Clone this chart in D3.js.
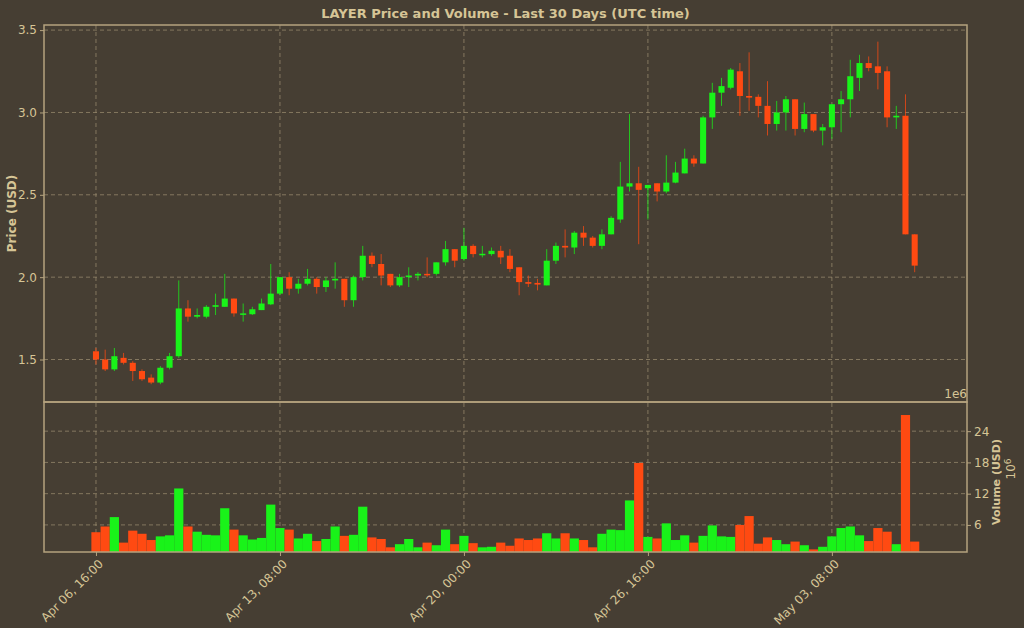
<!DOCTYPE html>
<html>
<head>
<meta charset="utf-8">
<script src="https://cdn.jsdelivr.net/npm/d3@7"></script>
<style>
  body { margin: 0; background: #463e33; }
  text { font-family: "DejaVu Sans", sans-serif; }
</style>
</head>
<body>
<div id="plot"></div>
<script>
// 8-hour candles starting Apr 06 16:00 UTC
const startTime = Date.UTC(2025, 3, 6, 16);
const opens = [1.55,1.50,1.44,1.51,1.48,1.43,1.39,1.36,1.45,1.52, 1.81,1.76,1.76,1.82,1.82,1.87,1.78,1.775,1.80,1.835,
  1.90,2.00,1.93,1.96,1.99,1.94,1.98,1.99,1.86,2.00, 2.13,2.08,2.02,1.95,2.00,2.01,2.02,2.02,2.09,2.17,
  2.11,2.19,2.14,2.14,2.16,2.13,2.06,1.97,1.965,1.95, 2.10,2.19,2.18,2.27,2.24,2.19,2.26,2.35,2.55,2.57,
  2.54,2.57,2.52,2.574,2.63,2.72,2.69,2.97,3.12,3.15, 3.25,3.10,3.095,3.04,2.93,3.00,3.08,2.90,2.99,2.89,
  2.91,3.05,3.08,3.21,3.30,3.28,3.25,2.97,2.98,2.26];
const highs = [1.57,1.56,1.57,1.54,1.49,1.44,1.41,1.46,1.54,1.98, 1.86,1.81,1.83,1.90,2.02,1.87,1.84,1.82,1.87,2.08,
  2.00,2.03,1.99,2.05,2.00,2.00,2.09,1.99,2.01,2.19, 2.15,2.14,2.02,2.02,2.06,2.03,2.12,2.09,2.22,2.17,
  2.30,2.20,2.19,2.18,2.19,2.17,2.06,2.01,1.99,2.17, 2.21,2.29,2.28,2.31,2.25,2.29,2.37,2.70,2.99,2.67,
  2.56,2.57,2.74,2.70,2.78,2.74,2.98,3.18,3.21,3.27, 3.30,3.365,3.11,3.19,3.07,3.10,3.08,3.06,2.99,2.93,
  3.05,3.13,3.32,3.35,3.34,3.43,3.28,3.04,3.11,2.26];
const lows = [1.47,1.43,1.43,1.47,1.37,1.37,1.35,1.35,1.44,1.51, 1.73,1.75,1.75,1.77,1.82,1.76,1.73,1.77,1.80,1.83,
  1.89,1.89,1.90,1.95,1.90,1.91,1.93,1.82,1.82,1.98, 2.06,1.95,1.94,1.94,1.94,1.98,2.00,2.01,2.07,2.06,
  2.10,2.12,2.12,2.13,2.08,2.03,1.89,1.94,1.92,1.95, 2.08,2.12,2.14,2.19,2.18,2.17,2.26,2.33,2.52,2.20,
  2.35,2.46,2.51,2.57,2.63,2.67,2.69,2.90,3.04,3.14, 2.98,3.01,2.97,2.86,2.89,2.89,2.86,2.88,2.88,2.80,
  2.84,2.88,2.97,3.13,3.25,3.14,2.91,2.90,2.26,2.03];
const closes = [1.50,1.44,1.52,1.48,1.43,1.38,1.36,1.45,1.52,1.81, 1.76,1.77,1.82,1.83,1.87,1.78,1.78,1.805,1.84,1.90,
  2.00,1.93,1.96,1.99,1.94,1.98,1.99,1.86,2.00,2.13, 2.08,2.01,1.95,2.00,2.01,2.02,2.018,2.09,2.17,2.10,
  2.19,2.14,2.142,2.16,2.12,2.05,1.97,1.96,1.955,2.10, 2.19,2.18,2.27,2.24,2.19,2.26,2.36,2.55,2.57,2.53,
  2.56,2.52,2.574,2.635,2.72,2.69,2.97,3.12,3.16,3.26, 3.10,3.09,3.04,2.93,3.00,3.08,2.90,2.99,2.89,2.91,
  3.05,3.08,3.22,3.30,3.27,3.24,2.97,2.98,2.26,2.07];
const volumes = [4.6,5.7,7.5,2.6,4.9,4.3,3.1,3.8,4.0,13.0, 5.7,4.7,4.1,4.0,9.2,5.1,4.0,3.2,3.5,9.9,
  5.4,5.1,3.4,4.3,2.9,3.3,5.7,3.9,4.1,9.5, 3.6,3.3,1.7,2.3,3.3,1.7,2.6,2.1,5.1,2.3,
  3.9,2.5,1.7,1.8,2.6,2.0,3.4,3.1,3.4,4.4, 3.4,4.4,3.4,3.1,1.7,4.3,5.1,5.0,10.7,17.9,
  3.7,3.4,6.3,3.1,4.0,2.6,3.9,5.9,3.8,3.7, 6.0,7.7,2.4,3.6,3.1,2.3,2.8,2.1,1.3,1.8,
  3.8,5.4,5.7,4.0,2.9,5.4,4.7,2.3,27.1,2.8];
const priceTicks = [1.5, 2.0, 2.5, 3.0, 3.5];
const volumeTicks = [6, 12, 18, 24];
const timeTickLabels = ["Apr 06, 16:00", "Apr 13, 08:00", "Apr 20, 00:00", "Apr 26, 16:00", "May 03, 08:00"];
const timeTicks = [0, 160, 320, 480, 640].map(h => new Date(startTime + h * 3600e3));

const HOUR = 3600e3;
const candles = opens.map((o, i) => ({
  t: new Date(startTime + i * 8 * HOUR),
  o: o, h: highs[i], l: lows[i], c: closes[i], v: volumes[i]
}));

const W = 1024, H = 628;
const left = 44, right = 967;
const priceTop = 25, priceBottom = 402, volTop = 402, volBottom = 552;
const fg = "#d6c596", frame = "#b5a37f", grid = "#a8997a";
const up = "#19f319", down = "#ff4a12";

const svg = d3.select("#plot").append("svg").attr("width", W).attr("height", H);
svg.append("rect").attr("width", W).attr("height", H).attr("fill", "#463e33");

const x = d3.scaleUtc()
  .domain([new Date(startTime - 45.2 * HOUR), new Date(startTime + 757.5 * HOUR)])
  .range([left, right]);
const yP = d3.scaleLinear().domain([1.242, 3.531]).range([priceBottom, priceTop]);
const yV = d3.scaleLinear().domain([0.8, 29.6]).range([volBottom, volTop]);
const step = x(new Date(startTime + 8 * HOUR)) - x(new Date(startTime));

// grids
const g = svg.append("g").attr("stroke", grid).attr("stroke-dasharray", "4,3").attr("stroke-width", 0.8).attr("opacity", 0.8);
timeTicks.forEach(t => g.append("line").attr("x1", x(t)).attr("x2", x(t)).attr("y1", priceTop).attr("y2", volBottom));
priceTicks.forEach(p => g.append("line").attr("x1", left).attr("x2", right).attr("y1", yP(p)).attr("y2", yP(p)));
volumeTicks.forEach(v => g.append("line").attr("x1", left).attr("x2", right).attr("y1", yV(v)).attr("y2", yV(v)));

// volume bars
svg.append("g").selectAll("rect").data(candles).join("rect")
  .attr("x", d => x(d.t) - step / 2)
  .attr("width", step)
  .attr("y", d => yV(d.v))
  .attr("height", d => volBottom - yV(d.v))
  .attr("fill", d => d.c >= d.o ? up : down);

// candles
const cg = svg.append("g");
cg.selectAll("line").data(candles).join("line")
  .attr("x1", d => x(d.t)).attr("x2", d => x(d.t))
  .attr("y1", d => yP(d.h)).attr("y2", d => yP(d.l))
  .attr("stroke", d => d.c >= d.o ? up : down).attr("stroke-width", 1).attr("opacity", 0.75);
cg.selectAll("rect").data(candles).join("rect")
  .attr("x", d => x(d.t) - step * 0.33)
  .attr("width", step * 0.66)
  .attr("y", d => yP(Math.max(d.o, d.c)))
  .attr("height", d => Math.max(1.5, Math.abs(yP(d.o) - yP(d.c))))
  .attr("fill", d => d.c >= d.o ? up : down);

// frames
svg.append("rect").attr("x", left).attr("y", priceTop).attr("width", right - left).attr("height", priceBottom - priceTop)
  .attr("fill", "none").attr("stroke", frame).attr("stroke-width", 1.5);
svg.append("rect").attr("x", left).attr("y", volTop).attr("width", right - left).attr("height", volBottom - volTop)
  .attr("fill", "none").attr("stroke", frame).attr("stroke-width", 1.5);

// axes
const axP = svg.append("g").attr("transform", `translate(${left},0)`)
  .call(d3.axisLeft(yP).tickValues(priceTicks).tickFormat(d3.format(".1f")).tickSize(4));
const axV = svg.append("g").attr("transform", `translate(${right},0)`)
  .call(d3.axisRight(yV).tickValues(volumeTicks).tickSize(4));
const axX = svg.append("g").attr("transform", `translate(0,${volBottom})`)
  .call(d3.axisBottom(x).tickValues(timeTicks).tickFormat((d, i) => timeTickLabels[i]).tickSize(4));
[axP, axV, axX].forEach(a => {
  a.select(".domain").remove();
  a.selectAll("line").attr("stroke", frame);
  a.selectAll("text").attr("fill", fg).style("font-size", "12px");
});
axX.selectAll("text").attr("text-anchor", "end").attr("dx", "-0.3em").attr("dy", "0.6em")
  .attr("transform", "rotate(-45)");

// labels
svg.append("text").attr("x", (left + right) / 2).attr("y", 18).attr("text-anchor", "middle")
  .attr("fill", fg).style("font-size", "13px").style("font-weight", "bold")
  .text("LAYER Price and Volume - Last 30 Days (UTC time)");
svg.append("text").attr("transform", `translate(16,${(priceTop + priceBottom) / 2}) rotate(-90)`)
  .attr("text-anchor", "middle").attr("fill", fg).style("font-size", "12px").style("font-weight", "bold")
  .text("Price (USD)");
svg.append("text").attr("transform", `translate(1000,${(volTop + volBottom) / 2 + 5}) rotate(-90)`)
  .attr("text-anchor", "middle").attr("fill", fg).style("font-size", "11px").style("font-weight", "bold")
  .text("Volume (USD)");
const e6 = svg.append("text").attr("transform", `translate(1015,${(volTop + volBottom) / 2 - 8}) rotate(-90)`)
  .attr("text-anchor", "middle").attr("fill", fg).style("font-size", "12px");
e6.append("tspan").text("10");
e6.append("tspan").attr("dy", "-0.5em").style("font-size", "9px").text("6");
svg.append("text").attr("x", right).attr("y", priceBottom - 4).attr("text-anchor", "end")
  .attr("fill", fg).style("font-size", "12px").text("1e6");
</script>
</body>
</html>
